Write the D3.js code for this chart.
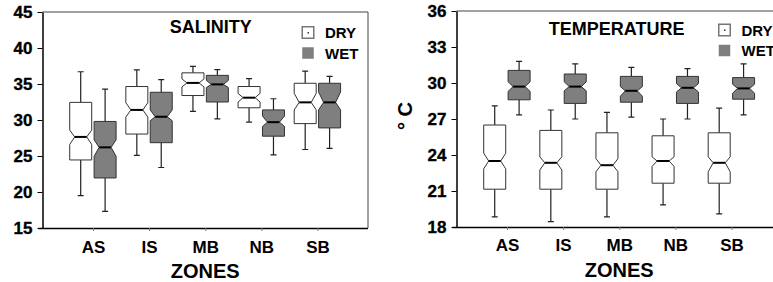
<!DOCTYPE html>
<html>
<head>
<meta charset="utf-8">
<script src="https://cdn.jsdelivr.net/npm/d3@7"></script>
<style>
body { margin: 0; background: #fff; }
svg text { font-family: "Liberation Sans", Arial, Helvetica, sans-serif; font-weight: bold; fill: #000; }
</style>
</head>
<body>
<div id="chart"></div>
<script>
let svgWidth = 773;
let svgHeight = 282;

// zones on the x axis, seasons in the legend
let zones = ["AS", "IS", "MB", "NB", "SB"];
let seasons = ["DRY", "WET"];

// each box: [whisker low, Q1, notch low, median, notch high, Q3, whisker high]
let salinityDry = [
  [19.5, 24.45, 26.6, 27.65, 28.6, 32.45, 36.7],
  [25.1, 28.05, 30.4, 31.4, 32.4, 34.65, 36.95],
  [31.2, 33.4, 34.6, 35.15, 35.7, 36.55, 37.45],
  [29.7, 31.7, 32.5, 33.1, 33.7, 34.65, 35.75],
  [25.9, 29.5, 31.4, 32.45, 33.7, 35.1, 36.8]
];
let salinityWet = [
  [17.3, 21.95, 24.95, 26.2, 27.25, 29.8, 34.3],
  [23.4, 26.85, 29.9, 30.45, 31.4, 33.85, 35.6],
  [30.15, 32.5, 34.5, 34.95, 35.5, 36.2, 37.0],
  [25.15, 27.75, 29.1, 29.7, 30.55, 31.4, 32.95],
  [26.05, 28.9, 31.4, 32.45, 33.9, 35.1, 36.05]
];
let temperatureDry = [
  [18.85, 21.15, 22.85, 23.5, 24.15, 26.5, 28.1],
  [18.45, 21.15, 22.75, 23.35, 23.85, 26.05, 27.75],
  [18.85, 21.15, 22.6, 23.15, 23.7, 25.85, 27.55],
  [19.85, 21.65, 23.05, 23.5, 23.85, 25.6, 27.0],
  [19.1, 21.65, 22.6, 23.35, 23.85, 25.85, 27.9]
];
let temperatureWet = [
  [27.35, 28.6, 29.3, 29.7, 30.1, 31.05, 31.8],
  [27.0, 28.3, 29.35, 29.7, 30.1, 30.75, 31.6],
  [27.15, 28.4, 28.9, 29.35, 29.7, 30.55, 31.3],
  [27.0, 28.3, 29.25, 29.6, 29.95, 30.55, 31.2],
  [27.35, 28.65, 29.15, 29.55, 29.9, 30.45, 31.6]
];

let salinityTicks = [15, 20, 25, 30, 35, 40, 45];
let temperatureTicks = [18, 21, 24, 27, 30, 33, 36];

let wetColor = "#7f7f7f";

let svg = d3.select("#chart")
  .append("svg")
  .attr("width", svgWidth)
  .attr("height", svgHeight);

function drawPanel(p) {
  let x = d3.scalePoint()
    .domain(zones)
    .range([p.left, p.right])
    .padding(0.9);

  let y = d3.scaleLinear()
    .domain(d3.extent(p.ticks))
    .range([p.bottom, p.top]);

  let g = svg.append("g");

  // frame: thin top and right, heavier left and bottom
  g.append("path")
    .attr("d", `M${p.left},${p.top}H${p.right}V${p.bottom}`)
    .attr("fill", "none")
    .attr("stroke", "#444")
    .attr("stroke-width", 1);

  let leftAxis = d3.axisLeft(y).tickValues(p.ticks).tickSize(5).tickSizeOuter(0);
  let yAxis = g.append("g")
    .attr("transform", `translate(${p.left},0)`)
    .call(leftAxis);
  yAxis.select(".domain").attr("stroke-width", 1.5);
  yAxis.selectAll("text")
    .attr("x", -10)
    .attr("font-size", 17)
    .attr("font-weight", "bold")
    .attr("stroke", "#000")
    .attr("stroke-width", 0.35)
    .attr("font-family", null);

  let bottomAxis = d3.axisBottom(x).tickSize(3).tickSizeOuter(0);
  let xAxis = g.append("g")
    .attr("transform", `translate(0,${p.bottom})`)
    .call(bottomAxis);
  xAxis.select(".domain")
    .attr("d", `M${p.left - 4},0.5H${p.right}`)
    .attr("stroke-width", 1.5);
  xAxis.selectAll(".tick line").attr("stroke", "#777");
  xAxis.selectAll("text")
    .attr("y", p.tickBase)
    .attr("dy", null)
    .attr("font-size", 17)
    .attr("font-weight", "bold")
    .attr("font-family", null);

  // boxes
  let series = [
    {name: "DRY", values: p.dry, offset: -12.3, fill: "#fff"},
    {name: "WET", values: p.wet, offset: 12.1, fill: wetColor}
  ];
  let bw = 22, inset = 5, cap = 3;

  series.forEach(function(s) {
    let boxes = g.append("g").selectAll("g")
      .data(s.values)
      .enter()
      .append("g");

    let cx = (d, i) => x(zones[i]) + s.offset;

    boxes.append("path")
      .attr("d", (d, i) => `M${cx(d, i)},${y(d[5])}V${y(d[6])}M${cx(d, i) - cap},${y(d[6])}H${cx(d, i) + cap}` +
        `M${cx(d, i)},${y(d[1])}V${y(d[0])}M${cx(d, i) - cap},${y(d[0])}H${cx(d, i) + cap}`)
      .attr("stroke", "#222")
      .attr("stroke-width", 1.2);

    boxes.append("path")
      .attr("d", function(d, i) {
        let l = cx(d, i) - bw / 2, r = cx(d, i) + bw / 2;
        return `M${l},${y(d[5])}H${r}V${y(d[4])}L${r - inset},${y(d[3])}L${r},${y(d[2])}V${y(d[1])}` +
          `H${l}V${y(d[2])}L${l + inset},${y(d[3])}L${l},${y(d[4])}Z`;
      })
      .attr("fill", s.fill)
      .attr("stroke", "#333")
      .attr("stroke-width", 1);

    boxes.append("line")
      .attr("x1", (d, i) => cx(d, i) - bw / 2 + inset)
      .attr("x2", (d, i) => cx(d, i) + bw / 2 - inset)
      .attr("y1", d => y(d[3]))
      .attr("y2", d => y(d[3]))
      .attr("stroke", "#000")
      .attr("stroke-width", 2);
  });

  // title
  g.append("text")
    .attr("x", p.titleX)
    .attr("y", p.titleY)
    .attr("text-anchor", "middle")
    .attr("font-size", 18)
    .text(p.title);

  // legend
  seasons.forEach(function(name, i) {
    let ly = p.legendY + i * 20.5;
    g.append("rect")
      .attr("x", p.legendX + 0.75)
      .attr("y", ly + 0.75)
      .attr("width", 11.5)
      .attr("height", 11.5)
      .attr("fill", i === 0 ? "#fff" : wetColor)
      .attr("stroke", i === 0 ? "#777" : "none")
      .attr("stroke-width", 1.5);
    if (i === 0) {
      g.append("rect")
        .attr("x", p.legendX + 6)
        .attr("y", ly + 6)
        .attr("width", 1.5)
        .attr("height", 1.5)
        .attr("fill", "#333");
    }
    g.append("text")
      .attr("x", p.legendX + 23.5)
      .attr("y", ly + 12)
      .attr("font-size", 15)
      .text(name);
  });

  // axis titles
  g.append("text")
    .attr("x", (x(zones[0]) + x(zones[4])) / 2)
    .attr("y", p.bottom + 49.5)
    .attr("text-anchor", "middle")
    .attr("font-size", 20)
    .text("ZONES");

  if (p.yLabel) {
    g.append("text")
      .attr("transform", `translate(${p.left - 45},${(p.top + p.bottom) / 2 - 3}) rotate(-90)`)
      .attr("text-anchor", "middle")
      .attr("font-size", 20)
      .text(p.yLabel);
  }
}

drawPanel({
  left: 42.5, right: 368, top: 12, bottom: 228,
  ticks: salinityTicks, dry: salinityDry, wet: salinityWet,
  title: "SALINITY", titleX: 210.7, titleY: 32.7,
  legendX: 301.5, legendY: 26, tickBase: 24.7
});

drawPanel({
  left: 456.5, right: 782, top: 11, bottom: 227,
  ticks: temperatureTicks, dry: temperatureDry, wet: temperatureWet,
  title: "TEMPERATURE", titleX: 616.7, titleY: 35,
  legendX: 718, legendY: 23.5, tickBase: 23.7,
  yLabel: "° C"
});
</script>
</body>
</html>
